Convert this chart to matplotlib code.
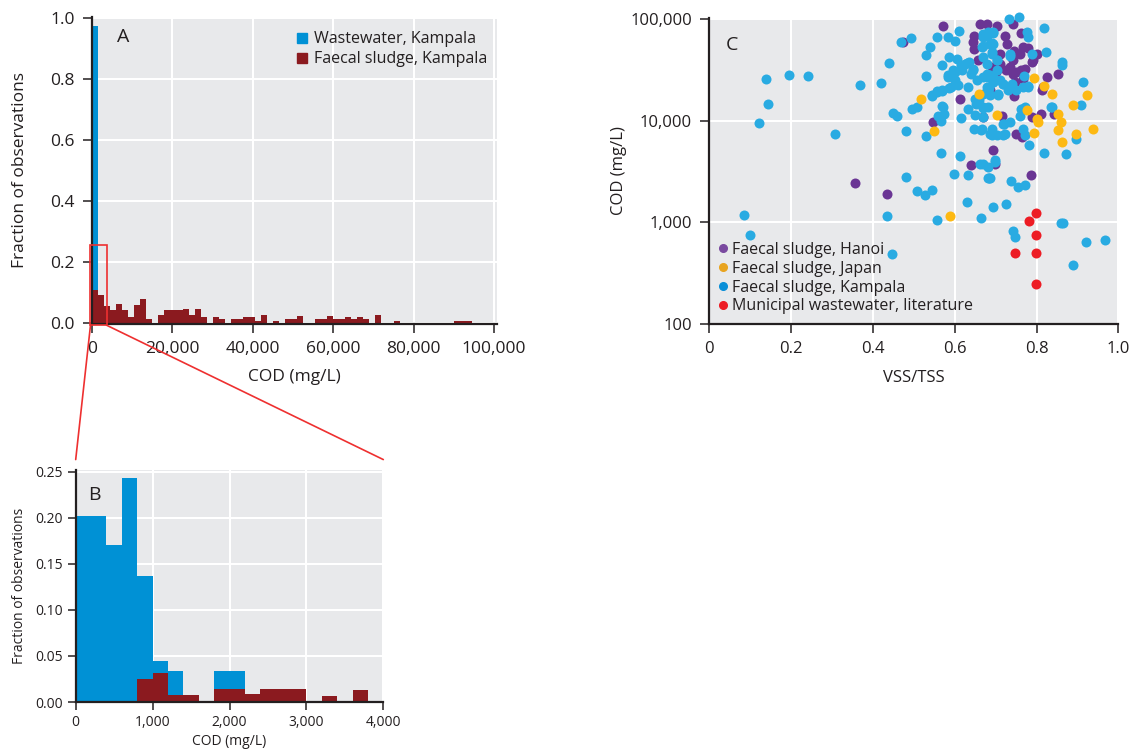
import numpy as np
import matplotlib
matplotlib.use("Agg")
import matplotlib.pyplot as plt
from matplotlib.patches import Rectangle, ConnectionPatch
from matplotlib.lines import Line2D
from matplotlib.ticker import FixedLocator, FuncFormatter

plt.rcParams['font.family'] = ['Open Sans', 'DejaVu Sans']

# ---------------- data ----------------
# Panel A: histogram, bin width 1500 mg/L
binwidth_A = 1500
faecal_A = [0.108, 0.092, 0.056, 0.043, 0.062, 0.043, 0.020, 0.059, 0.079, 0.013,
            0.0, 0.026, 0.043, 0.043, 0.043, 0.046, 0.026, 0.046, 0.020, 0.0,
            0.020, 0.013, 0.0, 0.013, 0.013, 0.020, 0.020, 0.007, 0.026, 0.0,
            0.007, 0.0, 0.013, 0.013, 0.023, 0.0, 0.0, 0.013, 0.013, 0.023,
            0.013, 0.013, 0.020, 0.013, 0.020, 0.013, 0.0, 0.026, 0.0, 0.0,
            0.007, 0.0, 0.0, 0.0, 0.0, 0.0, 0.0, 0.0, 0.0, 0.0,
            0.007, 0.007, 0.007]
wastewater_A = [0.974]

# Panel B: zoom 0-4000 mg/L, bin width 200 mg/L
binwidth_B = 200
wastewater_B = [0.202, 0.202, 0.170, 0.243, 0.137, 0.045, 0.034, 0.0, 0.0, 0.034,
                0.034, 0.0, 0.0, 0.0, 0.0, 0.0, 0.0, 0.0, 0.0, 0.0]
faecal_B = [0.0, 0.0, 0.0, 0.0, 0.025, 0.032, 0.0074, 0.0074, 0.0, 0.014,
            0.014, 0.0086, 0.014, 0.014, 0.014, 0.0, 0.0063, 0.0, 0.013, 0.0]

# Panel C: VSS/TSS vs COD
hanoi_x = [0.572, 0.474, 0.662, 0.678, 0.703, 0.743, 0.761, 0.723, 0.727, 0.648,
           0.645, 0.648, 0.711, 0.766, 0.760, 0.788, 0.772, 0.743, 0.735, 0.751,
           0.768, 0.792, 0.800, 0.711, 0.726, 0.743, 0.763, 0.747, 0.658, 0.690,
           0.825, 0.853, 0.817, 0.813, 0.745, 0.613, 0.686, 0.715, 0.670, 0.548,
           0.790, 0.810, 0.844, 0.751, 0.764, 0.694, 0.641, 0.698, 0.786, 0.356,
           0.434, 0.745, 0.700, 0.780]
hanoi_cod = [86000, 59000, 89300, 89300, 86000, 89300, 73000, 68600, 56800, 68600,
             59000, 50700, 45300, 52700, 45300, 37500, 32300, 39000, 33500, 29900,
             25800, 39000, 45300, 36100, 31100, 28800, 31100, 23900, 39000, 33500,
             26700, 28800, 21300, 19800, 17400, 16400, 19800, 11200, 10800, 9680,
             10800, 11700, 11700, 7430, 6890, 5100, 3640, 3780, 2900, 2440,
             1890, 48000, 30000, 52000]

japan_x = [0.517, 0.659, 0.794, 0.818, 0.838, 0.924, 0.890, 0.776, 0.704, 0.800,
           0.804, 0.853, 0.861, 0.853, 0.937, 0.896, 0.794, 0.863, 0.550, 0.588]
japan_cod = [16400, 18400, 26400, 21800, 18100, 17700, 14200, 12800, 11400, 10400,
             9680, 11700, 9750, 8130, 8320, 7430, 7600, 6160, 7830, 1150]

kampala_x = [0.138, 0.196, 0.242, 0.143, 0.121, 0.308, 0.368, 0.421, 0.439, 0.084,
             0.099, 0.447, 0.434, 0.482, 0.507, 0.527, 0.545, 0.557, 0.482, 0.530,
             0.566, 0.613, 0.598, 0.633, 0.683, 0.629, 0.664, 0.694, 0.725, 0.738,
             0.755, 0.772, 0.743, 0.747, 0.860, 0.866, 0.922, 0.968, 0.890, 0.782,
             0.819, 0.872, 0.896, 0.662, 0.670, 0.682, 0.682, 0.698, 0.698, 0.450,
             0.460, 0.496, 0.507, 0.468, 0.492, 0.530, 0.540, 0.556, 0.583, 0.601,
             0.610, 0.570, 0.586, 0.605, 0.530, 0.583, 0.544, 0.556, 0.570, 0.587,
             0.572, 0.560, 0.575, 0.566, 0.615, 0.633, 0.651, 0.650, 0.670, 0.670,
             0.682, 0.648, 0.664, 0.666, 0.686, 0.690, 0.690, 0.703, 0.719, 0.724,
             0.719, 0.734, 0.761, 0.760, 0.772, 0.766, 0.772, 0.835, 0.908, 0.913,
             0.863, 0.863, 0.823, 0.818, 0.757, 0.733, 0.777, 0.780, 0.788, 0.769,
             0.780, 0.768, 0.751, 0.731, 0.707, 0.686, 0.694, 0.719, 0.683, 0.678,
             0.680, 0.694, 0.645, 0.629, 0.615, 0.625, 0.635, 0.617, 0.601, 0.645,
             0.583, 0.641, 0.654, 0.601, 0.609, 0.592, 0.568, 0.556, 0.544, 0.633,
             0.650, 0.568, 0.670, 0.682, 0.670, 0.666, 0.668, 0.680, 0.694, 0.686,
             0.690, 0.703, 0.735, 0.735, 0.597, 0.670, 0.682, 0.690, 0.670, 0.690,
             0.678, 0.686, 0.670, 0.678, 0.670, 0.694, 0.694, 0.703, 0.703, 0.694,
             0.719, 0.765, 0.780, 0.707, 0.837, 0.720, 0.686, 0.660, 0.710, 0.740]
kampala_cod = [25800, 28200, 27200, 14500, 9460, 7380, 22500, 23400, 37000, 1190,
               750, 490, 1150, 2770, 2020, 1840, 2100, 1060, 7890, 7000,
               4800, 4520, 3010, 2930, 2750, 1570, 1110, 1400, 1530, 2530,
               2230, 2350, 820, 710, 990, 990, 640, 670, 380, 5800,
               4800, 4660, 6640, 3780, 3780, 3500, 2750, 4130, 3920, 11900,
               11200, 13000, 13600, 59400, 64500, 44300, 52700, 67000, 67000, 60300,
               75700, 34800, 42000, 40500, 27200, 28000, 17700, 19500, 19500, 21000,
               13600, 11200, 11700, 10000, 10500, 13100, 14600, 11400, 13300, 10800,
               13600, 8320, 8010, 8320, 7430, 8320, 7160, 7160, 7160, 7430,
               9310, 9680, 13100, 11200, 13600, 8320, 7160, 13600, 14100, 24000,
               37500, 34800, 47100, 82000, 103700, 100000, 74000, 67000, 45300, 27300,
               22000, 21300, 19800, 19800, 17700, 17700, 23900, 23000, 21000, 26700,
               28500, 26700, 31100, 36500, 35000, 36100, 38000, 31100, 30000, 32300,
               27000, 28500, 24800, 24800, 22200, 21300, 19800, 19100, 17400, 21300,
               16400, 14000, 13600, 19100, 42000, 52700, 66000, 68600, 72000, 57000,
               47100, 39000, 45300, 43600, 31100, 70300, 74000, 58000, 54700, 45300,
               36100, 27800, 26700, 21300, 18400, 74000, 56800, 39000, 31100, 23900,
               23000, 13100, 21300, 18400, 13600, 9310, 2750, 16000, 25000, 23000]

municipal_x = [0.798, 0.782, 0.798, 0.747, 0.798, 0.798]
municipal_cod = [1240, 1030, 750, 500, 500, 250]

# ---------------- styling ----------------
BG = '#e8e9eb'
BLUE_BAR = '#0091d5'
RED_BAR = '#8b1a1f'
C_HANOI = '#6a3594'
C_JAPAN = '#fdb913'
C_KAMPALA = '#29abe2'
C_MUNI = '#ed1c24'
TXT = '#231f20'
ZOOMRED = '#ee3030'

W, H = 1142, 753
fig = plt.figure(figsize=(W / 100, H / 100), dpi=100)


def ax_at(x0, y0, x1, y1):
    return fig.add_axes([x0 / W, 1 - y1 / H, (x1 - x0) / W, (y1 - y0) / H])


def style(ax, ticklen=6.5, lab=12, pad=3.5):
    ax.set_facecolor(BG)
    for s in ['top', 'right']:
        ax.spines[s].set_visible(False)
    for s in ['left', 'bottom']:
        ax.spines[s].set_color(TXT)
        ax.spines[s].set_linewidth(1.6)
    ax.tick_params(direction='out', length=ticklen, width=1.1, color=TXT,
                   labelsize=lab, labelcolor=TXT, pad=pad)
    ax.grid(True, color='white', linewidth=1.5)
    ax.set_axisbelow(True)


thousands = FuncFormatter(lambda v, p: f"{int(round(v)):,}")

# ---------------- Panel A ----------------
axA = ax_at(91.5, 17, 497, 324)
style(axA, lab=12.5, pad=5.5)
leftsA = np.arange(len(faecal_A)) * binwidth_A
axA.bar(np.arange(len(wastewater_A)) * binwidth_A, wastewater_A, width=binwidth_A,
        align='edge', color=BLUE_BAR, linewidth=0, label='Wastewater, Kampala')
axA.bar(leftsA, faecal_A, width=binwidth_A, align='edge', color=RED_BAR,
        linewidth=0, label='Faecal sludge, Kampala')
axA.set_xlim(-150, 100750)
axA.set_ylim(-0.003, 1.004)
axA.xaxis.set_major_locator(FixedLocator([0, 20000, 40000, 60000, 80000, 100000]))
axA.xaxis.set_major_formatter(thousands)
axA.yaxis.set_major_locator(FixedLocator([0, 0.2, 0.4, 0.6, 0.8, 1.0]))
axA.yaxis.set_major_formatter(FuncFormatter(lambda v, p: f"{v:.1f}"))
axA.set_xlabel('COD (mg/L)', fontsize=12.5, color=TXT, labelpad=9)
axA.set_ylabel('Fraction of observations', fontsize=12.5, color=TXT, labelpad=16)
axA.text(0.063, 0.965, 'A', transform=axA.transAxes, fontsize=14, color=TXT,
         ha='left', va='top')
hA = [Line2D([], [], marker='s', color=BLUE_BAR, linestyle='none', markersize=7),
      Line2D([], [], marker='s', color=RED_BAR, linestyle='none', markersize=7)]
axA.legend(hA, ['Wastewater, Kampala', 'Faecal sludge, Kampala'], loc='upper right',
           bbox_to_anchor=(1.0, 0.985), frameon=False, fontsize=11.5,
           handlelength=0.6, handletextpad=0.45, labelspacing=0.25,
           borderaxespad=0.2, labelcolor=TXT)

# zoom rectangle
rect = Rectangle((-400, -0.007), 4000, 0.262, fill=False, edgecolor=ZOOMRED,
                 linewidth=1.2, clip_on=False, zorder=5)
axA.add_patch(rect)

# ---------------- Panel B ----------------
axB = ax_at(75.7, 470, 383.3, 702)
style(axB, ticklen=6, lab=10)
leftsB = np.arange(len(wastewater_B)) * binwidth_B
axB.bar(leftsB, wastewater_B, width=binwidth_B, align='edge', color=BLUE_BAR, linewidth=0)
axB.bar(leftsB, faecal_B, width=binwidth_B, align='edge', color=RED_BAR, linewidth=0)
axB.set_xlim(0, 4000)
axB.set_ylim(0, 0.252)
axB.xaxis.set_major_locator(FixedLocator([0, 1000, 2000, 3000, 4000]))
axB.xaxis.set_major_formatter(thousands)
axB.yaxis.set_major_locator(FixedLocator([0, 0.05, 0.10, 0.15, 0.20, 0.25]))
axB.yaxis.set_major_formatter(FuncFormatter(lambda v, p: f"{v:.2f}"))
axB.set_xlabel('COD (mg/L)', fontsize=10, color=TXT, labelpad=3)
axB.set_ylabel('Fraction of observations', fontsize=10, color=TXT, labelpad=6)
axB.text(0.04, 0.93, 'B', transform=axB.transAxes, fontsize=14, color=TXT,
         ha='left', va='top')

for (xa, xb) in [(-400, 0.0), (3600, 1.0)]:
    con = ConnectionPatch(xyA=(xa, -0.007), coordsA=axA.transData,
                          xyB=(xb, 1.045), coordsB=axB.transAxes,
                          color=ZOOMRED, linewidth=1.2)
    fig.add_artist(con)

# ---------------- Panel C ----------------
axC = ax_at(709.3, 18, 1118.3, 324)
style(axC, lab=12, pad=6)
ms = 52
axC.scatter(hanoi_x, hanoi_cod, s=ms, color=C_HANOI, linewidths=0, clip_on=False, zorder=3)
axC.scatter(kampala_x, kampala_cod, s=ms, color=C_KAMPALA, linewidths=0, clip_on=False, zorder=3)
axC.scatter(japan_x, japan_cod, s=ms, color=C_JAPAN, linewidths=0, clip_on=False, zorder=3)
axC.scatter(municipal_x, municipal_cod, s=ms, color=C_MUNI, linewidths=0, clip_on=False, zorder=3)
axC.set_yscale('log')
axC.set_xlim(0, 1.0)
axC.set_ylim(100, 102000)
axC.xaxis.set_major_locator(FixedLocator([0, 0.2, 0.4, 0.6, 0.8, 1.0]))
axC.xaxis.set_major_formatter(FuncFormatter(lambda v, p: '0' if v == 0 else f"{v:.1f}"))
axC.yaxis.set_major_locator(FixedLocator([100, 1000, 10000, 100000]))
axC.yaxis.set_minor_locator(FixedLocator([]))
axC.yaxis.set_major_formatter(thousands)
axC.set_xlabel('VSS/TSS', fontsize=12, color=TXT, labelpad=9)
axC.set_ylabel('COD (mg/L)', fontsize=12, color=TXT, labelpad=2)
axC.text(0.04, 0.94, 'C', transform=axC.transAxes, fontsize=14, color=TXT,
         ha='left', va='top')
hC = [Line2D([], [], marker='o', color='#7a4aa0', linestyle='none', markersize=5.5),
      Line2D([], [], marker='o', color='#e8a420', linestyle='none', markersize=5.5),
      Line2D([], [], marker='o', color='#0a8fd8', linestyle='none', markersize=5.5),
      Line2D([], [], marker='o', color=C_MUNI, linestyle='none', markersize=5.5)]
axC.legend(hC, ['Faecal sludge, Hanoi', 'Faecal sludge, Japan', 'Faecal sludge, Kampala',
                'Municipal wastewater, literature'], loc='lower left',
           bbox_to_anchor=(0.0, 0.0), frameon=False, fontsize=11.5,
           handlelength=0.5, handletextpad=0.35, labelspacing=0.18,
           borderaxespad=0.2, labelcolor=TXT)

fig.savefig('out.png', dpi=100)
